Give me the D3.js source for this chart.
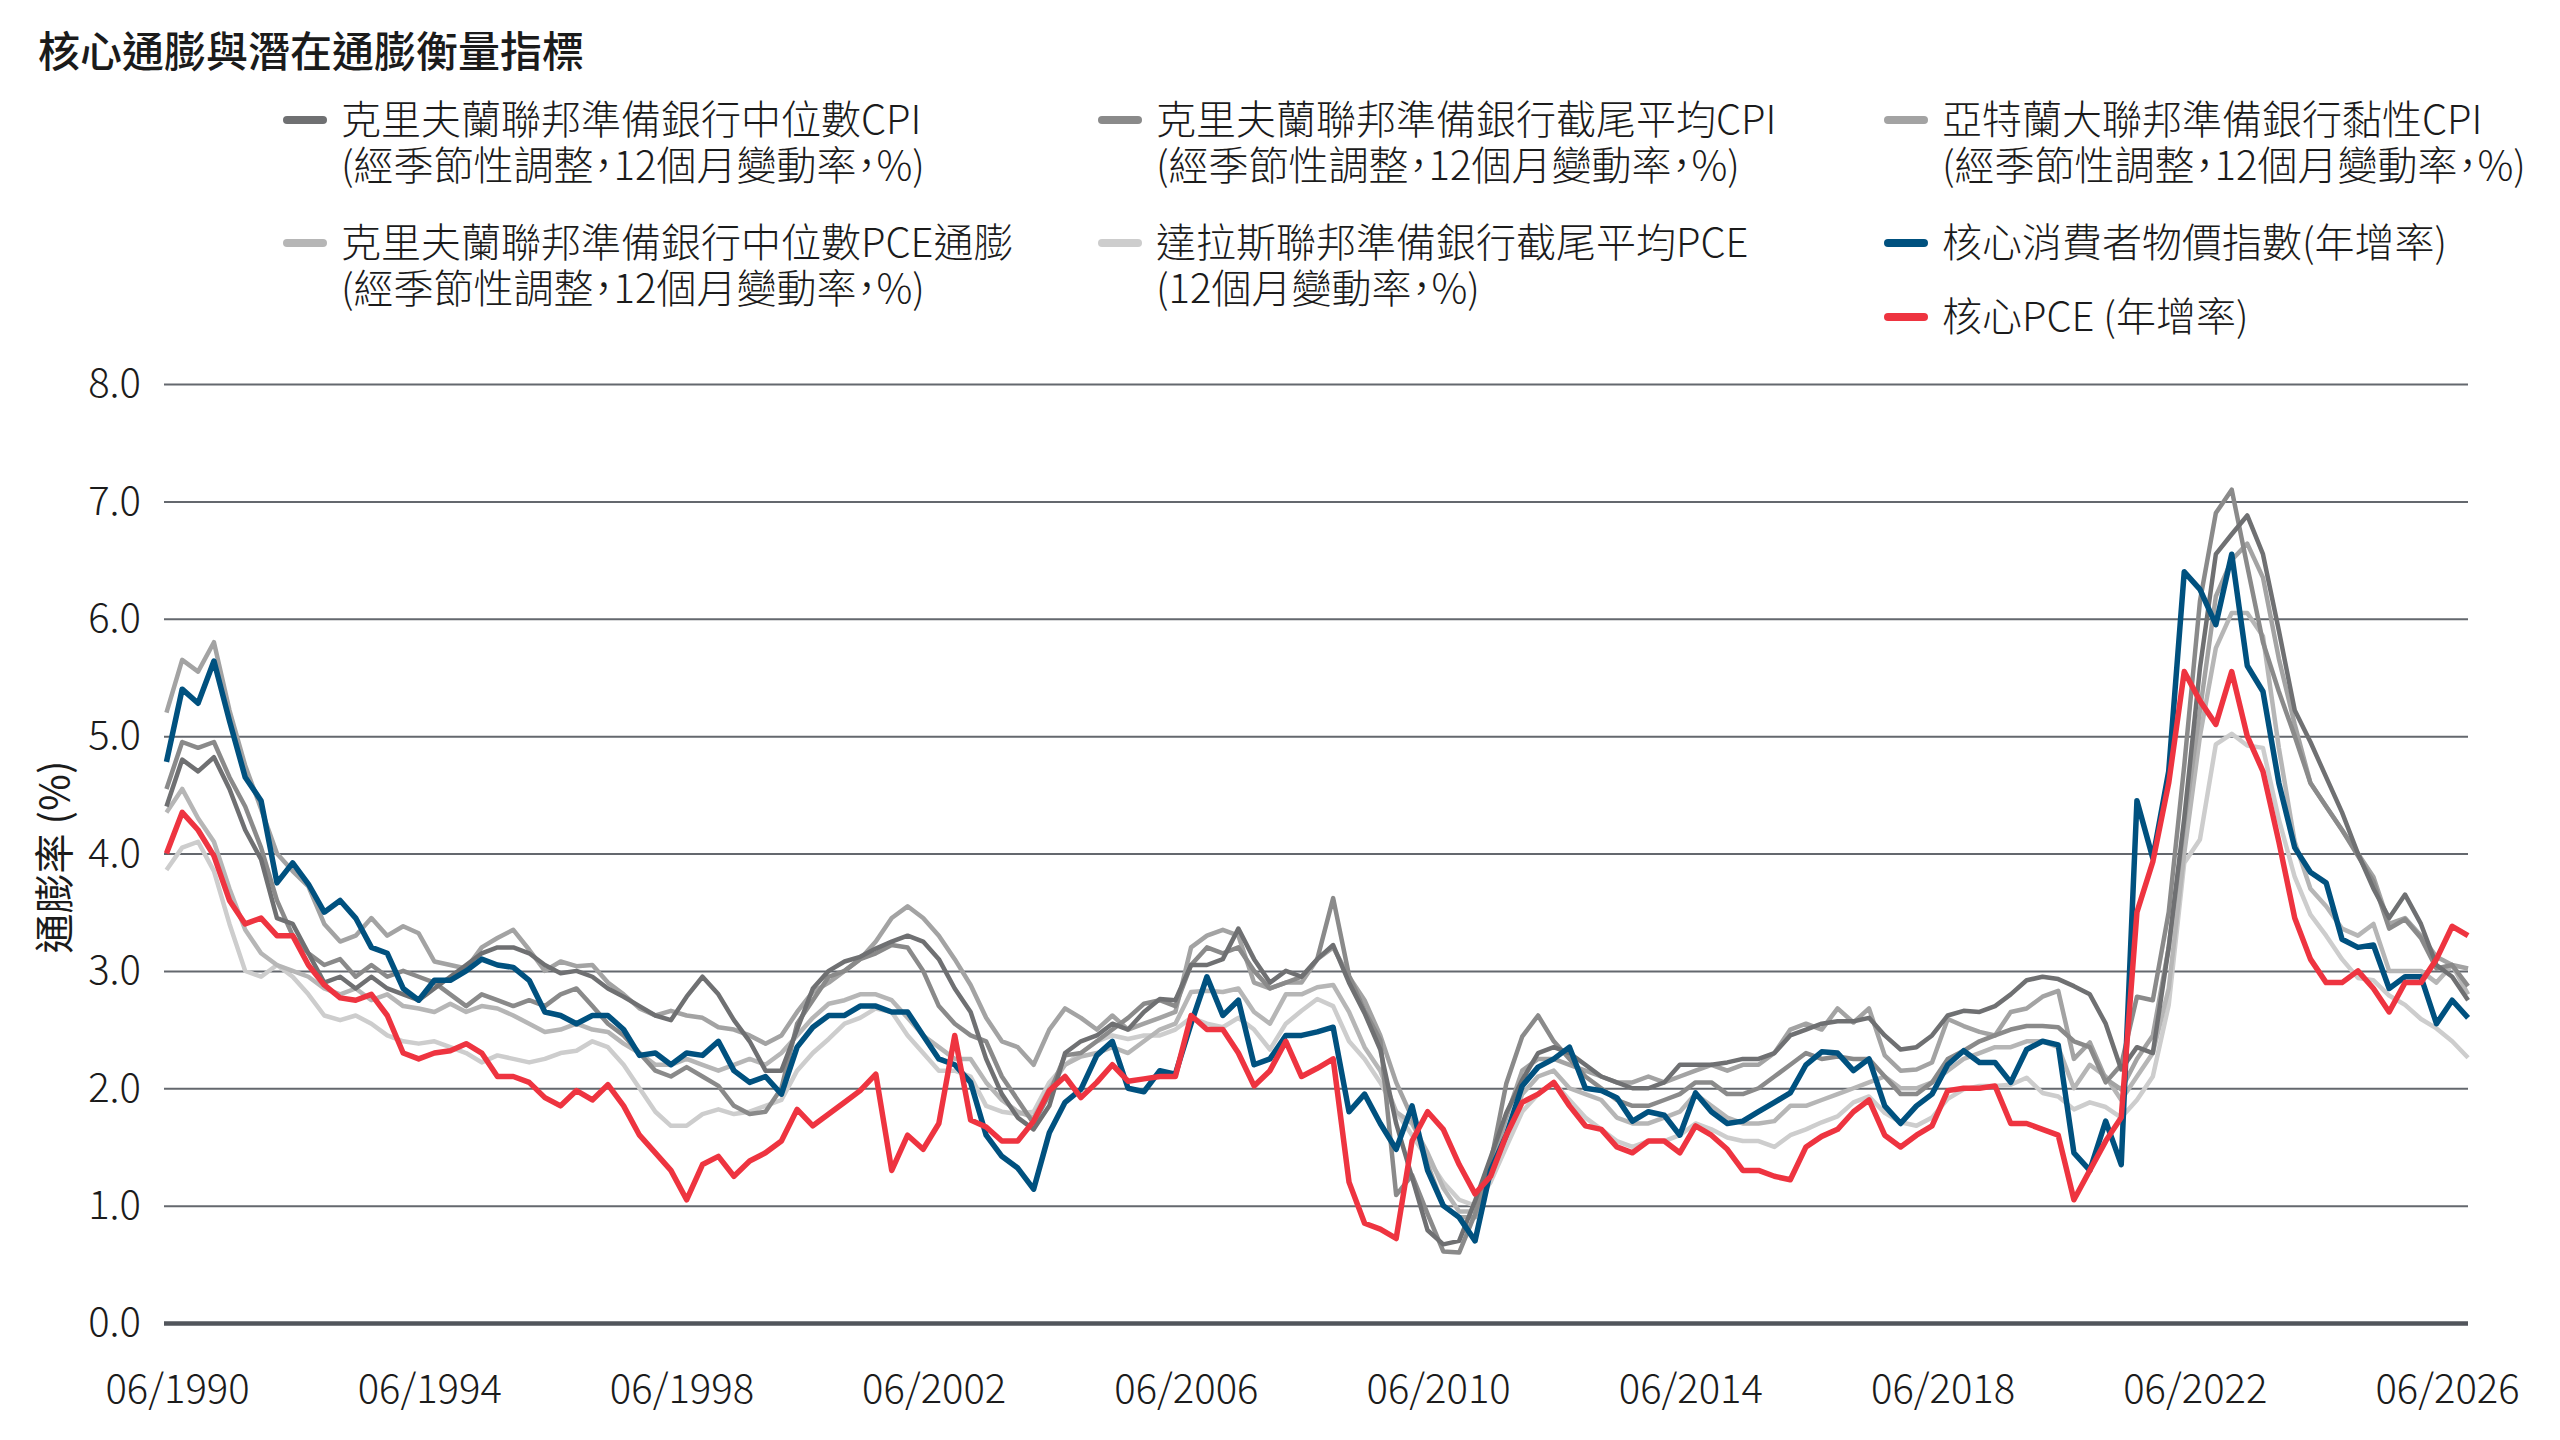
<!DOCTYPE html>
<html>
<head>
<meta charset="utf-8">
<script src="https://cdn.jsdelivr.net/npm/d3@7"></script>
<style>
  body { margin: 0; background: #fff; }
  text { font-family: "Noto Sans CJK TC", "Noto Sans CJK SC", sans-serif; fill: #1b1b1b; }
  .legend-text { font-feature-settings: "palt"; }
</style>
</head>
<body>
<script>
// quarterly readings, first value = 04/1990 on the chart's time axis, last = 10/2026
var medianCpi = [
  4.40,4.80,4.70,4.82, 4.55,4.20,3.95,3.45, 3.40,3.15,2.90,2.95, 2.85,2.95,2.85,2.80,
  2.75,2.85,2.95,3.05, 3.15,3.20,3.20,3.15, 3.05,2.98,3.00,2.95, 2.85,2.78,2.70,2.62,
  2.58,2.78,2.95,2.80, 2.58,2.40,2.15,2.15, 2.50,2.85,3.00,3.08, 3.12,3.19,3.25,3.30,
  3.25,3.10,2.85,2.65, 2.25,1.95,1.75,1.65, 1.85,2.30,2.40,2.45, 2.55,2.50,2.65,2.76,
  2.75,3.05,3.05,3.10, 3.36,3.10,2.90,3.00, 2.95,3.10,3.22,2.90, 2.64,2.33,1.70,1.24,
  0.79,0.67,0.70,1.04, 1.41,1.79,2.07,2.30, 2.35,2.30,2.20,2.10, 2.05,2.00,2.00,2.05,
  2.20,2.20,2.20,2.22, 2.25,2.25,2.30,2.45, 2.50,2.55,2.57,2.57, 2.60,2.45,2.33,2.35,
  2.45,2.62,2.66,2.65, 2.70,2.80,2.92,2.95, 2.93,2.87,2.80,2.55, 2.16,2.35,2.30,3.20,
  4.30,5.58,6.55,6.72, 6.88,6.55,5.90,5.22, 4.95,4.65,4.35,4.00, 3.70,3.45,3.65,3.40,
  3.05,2.95,2.75
];
var trimmedCpi = [
  4.55,4.95,4.90,4.95, 4.65,4.40,4.05,3.60, 3.30,3.15,3.05,3.10, 2.95,3.05,2.95,3.00,
  2.95,2.90,2.80,2.70, 2.80,2.75,2.70,2.75, 2.70,2.80,2.85,2.70, 2.55,2.45,2.30,2.15,
  2.10,2.18,2.10,2.02, 1.85,1.78,1.80,2.00, 2.55,2.75,2.95,3.00, 3.10,3.15,3.22,3.20,
  3.00,2.70,2.55,2.45, 2.40,2.10,1.90,1.70, 1.95,2.28,2.30,2.40, 2.50,2.60,2.72,2.75,
  2.70,3.05,3.20,3.15, 3.20,3.00,2.85,2.90, 2.95,3.10,3.62,2.96, 2.66,2.41,1.09,1.26,
  0.93,0.61,0.60,0.93, 1.36,2.04,2.44,2.62, 2.40,2.25,2.10,2.00, 1.90,1.85,1.85,1.90,
  1.95,2.05,2.05,1.95, 1.95,2.00,2.10,2.20, 2.30,2.25,2.27,2.25, 2.25,2.10,1.95,1.95,
  2.05,2.25,2.32,2.40, 2.45,2.50,2.53,2.53, 2.52,2.40,2.35,2.05, 2.20,2.78,2.75,3.50,
  4.75,6.15,6.90,7.10, 6.45,5.80,5.38,5.00, 4.60,4.40,4.20,3.98, 3.76,3.36,3.44,3.28,
  3.02,3.05,2.87
];
var stickyCpi = [
  5.20,5.65,5.55,5.80, 5.22,4.75,4.38,4.00, 3.85,3.72,3.40,3.25, 3.30,3.45,3.30,3.38,
  3.32,3.08,3.05,3.02, 3.20,3.28,3.35,3.18, 3.00,3.08,3.04,3.05, 2.90,2.80,2.68,2.62,
  2.66,2.62,2.60,2.52, 2.50,2.45,2.38,2.45, 2.65,2.82,2.90,3.00, 3.10,3.25,3.45,3.55,
  3.45,3.30,3.10,2.88, 2.60,2.40,2.35,2.20, 2.50,2.68,2.60,2.50, 2.62,2.50,2.55,2.60,
  2.65,3.20,3.30,3.35, 3.30,2.90,2.85,2.90, 2.90,3.10,3.20,2.95, 2.75,2.45,2.05,1.75,
  1.35,1.00,0.90,0.90, 1.30,1.75,2.15,2.25, 2.25,2.20,2.15,2.10, 2.05,2.05,2.10,2.05,
  2.10,2.15,2.20,2.15, 2.20,2.20,2.30,2.50, 2.55,2.50,2.68,2.56, 2.68,2.28,2.15,2.16,
  2.22,2.59,2.53,2.48, 2.45,2.65,2.68,2.78, 2.83,2.25,2.39,2.08, 1.99,2.25,2.45,3.20,
  4.25,5.22,6.19,6.50, 6.64,6.35,5.66,5.10, 4.60,4.40,4.20,4.00, 3.80,3.40,3.45,3.30,
  3.12,3.05,3.02
];
var medianPce = [
  4.35,4.55,4.30,4.10, 3.70,3.35,3.15,3.05, 3.00,2.95,2.85,2.80, 2.85,2.75,2.80,2.70,
  2.68,2.65,2.72,2.65, 2.70,2.68,2.62,2.55, 2.48,2.50,2.55,2.50, 2.48,2.38,2.30,2.20,
  2.20,2.25,2.20,2.15, 2.20,2.25,2.20,2.30, 2.45,2.60,2.72,2.75, 2.80,2.80,2.75,2.60,
  2.45,2.35,2.25,2.25, 2.05,1.90,1.80,1.75, 2.00,2.20,2.27,2.30, 2.35,2.30,2.40,2.50,
  2.55,2.82,2.83,2.82, 2.85,2.65,2.55,2.80, 2.80,2.86,2.88,2.65, 2.35,2.15,1.80,1.70,
  1.45,1.15,0.95,0.95, 1.25,1.60,1.95,2.10, 2.15,2.00,1.95,1.90, 1.75,1.70,1.70,1.75,
  1.80,1.95,1.85,1.75, 1.70,1.70,1.72,1.85, 1.85,1.90,1.95,2.00, 2.05,2.10,2.00,2.00,
  2.05,2.15,2.25,2.30, 2.35,2.35,2.40,2.40, 2.35,2.00,2.20,2.10, 1.90,2.10,2.30,2.85,
  4.00,5.00,5.75,6.05, 6.05,5.85,4.90,4.10, 3.70,3.55,3.36,3.30, 3.40,3.00,3.00,3.00,
  2.90,3.05,2.80
];
var dallasPce = [
  3.86,4.05,4.10,3.85, 3.40,3.00,2.95,3.05, 2.95,2.80,2.62,2.58, 2.62,2.55,2.45,2.40,
  2.38,2.40,2.35,2.30, 2.22,2.28,2.25,2.22, 2.25,2.30,2.32,2.40, 2.35,2.20,2.00,1.80,
  1.68,1.68,1.78,1.82, 1.78,1.80,1.85,1.90, 2.15,2.30,2.42,2.55, 2.60,2.68,2.65,2.45,
  2.30,2.15,2.15,2.10, 1.85,1.80,1.78,1.80, 2.05,2.20,2.30,2.40, 2.45,2.42,2.45,2.45,
  2.50,2.60,2.55,2.52, 2.60,2.50,2.33,2.55, 2.66,2.76,2.70,2.40, 2.25,2.05,1.80,1.60,
  1.40,1.20,1.05,1.00, 1.20,1.50,1.80,1.95, 2.05,1.90,1.75,1.65, 1.55,1.50,1.55,1.55,
  1.60,1.70,1.65,1.58, 1.55,1.55,1.50,1.60, 1.65,1.71,1.76,1.88, 1.93,1.79,1.71,1.68,
  1.75,1.91,1.99,2.02, 2.02,2.03,2.09,1.96, 1.93,1.82,1.88,1.84, 1.75,1.90,2.10,2.71,
  3.92,4.12,4.93,5.02, 4.92,4.90,4.29,3.80, 3.48,3.30,3.10,2.94, 2.92,2.79,2.71,2.59,
  2.51,2.40,2.26
];
var coreCpi = [
  4.78,5.40,5.28,5.64, 5.13,4.65,4.45,3.75, 3.92,3.74,3.50,3.60, 3.45,3.20,3.15,2.85,
  2.75,2.92,2.92,3.00, 3.10,3.05,3.03,2.92, 2.65,2.62,2.55,2.62, 2.62,2.50,2.28,2.30,
  2.20,2.30,2.28,2.40, 2.15,2.05,2.10,1.95, 2.35,2.52,2.62,2.62, 2.70,2.70,2.65,2.65,
  2.45,2.25,2.20,2.05, 1.60,1.42,1.32,1.14, 1.62,1.88,1.99,2.28, 2.40,2.00,1.97,2.15,
  2.12,2.55,2.95,2.62, 2.75,2.20,2.25,2.45, 2.45,2.48,2.52,1.80, 1.95,1.70,1.48,1.85,
  1.30,1.00,0.90,0.70, 1.30,1.60,2.02,2.18, 2.25,2.35,2.00,1.98, 1.92,1.72,1.80,1.77,
  1.60,1.96,1.80,1.70, 1.72,1.80,1.88,1.96, 2.20,2.31,2.30,2.15, 2.25,1.85,1.70,1.85,
  1.95,2.20,2.32,2.22, 2.22,2.05,2.33,2.40, 2.37,1.45,1.30,1.72, 1.35,4.45,3.96,4.70,
  6.40,6.25,5.95,6.55, 5.60,5.38,4.60,4.05, 3.84,3.75,3.27,3.20, 3.22,2.85,2.95,2.95,
  2.55,2.75,2.60
];
var corePce = [
  4.00,4.35,4.20,3.98, 3.60,3.40,3.45,3.30, 3.30,3.05,2.88,2.77, 2.75,2.80,2.62,2.30,
  2.25,2.30,2.32,2.38, 2.30,2.10,2.10,2.05, 1.92,1.85,1.98,1.90, 2.03,1.85,1.60,1.45,
  1.30,1.05,1.35,1.42, 1.25,1.38,1.45,1.55, 1.82,1.68,1.78,1.88, 1.98,2.12,1.30,1.60,
  1.48,1.70,2.45,1.73, 1.67,1.55,1.55,1.72, 1.98,2.10,1.92,2.05, 2.20,2.06,2.08,2.10,
  2.10,2.62,2.50,2.50, 2.30,2.02,2.15,2.40, 2.10,2.17,2.25,1.20, 0.85,0.80,0.72,1.55,
  1.80,1.65,1.35,1.10, 1.25,1.60,1.88,1.95, 2.05,1.85,1.68,1.65, 1.50,1.45,1.55,1.55,
  1.45,1.68,1.60,1.48, 1.30,1.30,1.25,1.22, 1.50,1.59,1.65,1.80, 1.90,1.60,1.50,1.60,
  1.68,1.98,2.00,2.00, 2.02,1.70,1.70,1.65, 1.60,1.05,1.30,1.55, 1.75,3.50,3.93,4.60,
  5.55,5.30,5.10,5.55, 5.00,4.70,4.10,3.45, 3.10,2.90,2.90,3.00, 2.85,2.65,2.90,2.90,
  3.10,3.38,3.30
];

var xTickLabels = ["06/1990","06/1994","06/1998","06/2002","06/2006","06/2010","06/2014","06/2018","06/2022","06/2026"];
var yTicks = [0, 1, 2, 3, 4, 5, 6, 7, 8];

var seriesNames = [
  ["克里夫蘭聯邦準備銀行中位數CPI", "(經季節性調整，12個月變動率，%)"],
  ["克里夫蘭聯邦準備銀行截尾平均CPI", "(經季節性調整，12個月變動率，%)"],
  ["亞特蘭大聯邦準備銀行黏性CPI", "(經季節性調整，12個月變動率，%)"],
  ["克里夫蘭聯邦準備銀行中位數PCE通膨", "(經季節性調整，12個月變動率，%)"],
  ["達拉斯聯邦準備銀行截尾平均PCE", "(12個月變動率，%)"],
  ["核心消費者物價指數(年增率)"],
  ["核心PCE (年增率)"]
];
var seriesValues = [medianCpi, trimmedCpi, stickyCpi, medianPce, dallasPce, coreCpi, corePce];
var seriesColors = ["#6f7072", "#8a8a8a", "#a3a3a3", "#b6b6b6", "#cdcdcd", "#00517f", "#ee3440"];

var parseTick = d3.timeParse("%m/%Y");
var dates = d3.timeMonth.every(3).range(new Date(1990, 3, 1), new Date(2026, 10, 1));

// plot frame (note: "top" is a reserved window global, so prefix everything)
var plotLeft = 164, plotRight = 2468, plotTop = 384, plotBottom = 1323;

var svg = d3.select("body")
  .append("svg")
  .attr("width", 2560)
  .attr("height", 1440);

svg.append("rect").attr("width", 2560).attr("height", 1440).attr("fill", "#fff");

var x = d3.scaleTime()
  .domain([parseTick(xTickLabels[0]), parseTick(xTickLabels[xTickLabels.length - 1])])
  .range([177, 2447]);

var y = d3.scaleLinear()
  .domain([0, 8])
  .range([plotBottom, plotTop]);

// title
svg.append("text")
  .attr("x", 38)
  .attr("y", 67)
  .style("font-size", "42px")
  .style("font-weight", 500)
  .text("核心通膨與潛在通膨衡量指標");

// horizontal grid + y labels
var yAxis = svg.append("g")
  .attr("transform", "translate(" + plotLeft + ",0)")
  .call(d3.axisLeft(y)
    .tickValues(yTicks)
    .tickSize(-(plotRight - plotLeft))
    .tickPadding(23)
    .tickFormat(d3.format(".1f")));

yAxis.select(".domain").remove();
yAxis.selectAll(".tick line")
  .attr("stroke", function(d) { return d === 0 ? "#51555b" : "#64686e"; })
  .attr("stroke-width", function(d) { return d === 0 ? 4.5 : 2; });
yAxis.selectAll(".tick text")
  .style("font-size", "40px")
  .style("font-weight", 300)
  .attr("fill", "#1b1b1b");

// x labels
var xAxis = svg.append("g")
  .attr("transform", "translate(0," + plotBottom + ")")
  .call(d3.axisBottom(x)
    .tickValues(xTickLabels.map(parseTick))
    .tickSize(0)
    .tickPadding(52)
    .tickFormat(d3.timeFormat("%m/%Y")));

xAxis.select(".domain").remove();
xAxis.selectAll(".tick text")
  .style("font-size", "40px")
  .style("font-weight", 300)
  .attr("fill", "#1b1b1b");

// y axis title
svg.append("text")
  .attr("transform", "translate(52," + 857 + ") rotate(-90)")
  .attr("text-anchor", "middle")
  .attr("dominant-baseline", "central")
  .style("font-size", "40px")
  .style("font-weight", 400)
  .text("通膨率 (%)");

// lines, lightest grays first so blue and red sit on top
var line = d3.line()
  .x(function(d, i) { return x(dates[i]); })
  .y(function(d) { return y(d); });

var drawOrder = [4, 3, 2, 1, 0, 5, 6];
svg.append("g")
  .selectAll("path")
  .data(drawOrder)
  .enter()
  .append("path")
  .attr("d", function(k) { return line(seriesValues[k]); })
  .attr("fill", "none")
  .attr("stroke", function(k) { return seriesColors[k]; })
  .attr("stroke-width", function(k) { return k >= 5 ? 5.5 : 4.5; })
  .attr("stroke-linejoin", "round");

// legend: three columns, the last column stacks three entries
var legendCols = [287, 1102, 1888];
var legendSpots = [
  { col: 0, cy: 120 }, { col: 1, cy: 120 }, { col: 2, cy: 120 },
  { col: 0, cy: 243 }, { col: 1, cy: 243 }, { col: 2, cy: 243 },
  { col: 2, cy: 317 }
];

var legend = svg.append("g")
  .selectAll("g")
  .data(seriesNames)
  .enter()
  .append("g")
  .attr("transform", function(d, i) {
    return "translate(" + legendCols[legendSpots[i].col] + "," + legendSpots[i].cy + ")";
  });

legend.append("line")
  .attr("x1", 0)
  .attr("x2", 36)
  .attr("stroke", function(d, i) { return seriesColors[i]; })
  .attr("stroke-width", 8)
  .attr("stroke-linecap", "round");

legend.selectAll("text")
  .data(function(d) { return d; })
  .enter()
  .append("text")
  .attr("class", "legend-text")
  .attr("x", 54)
  .attr("y", function(d, j) { return 14 + j * 46; })
  .style("font-size", "40px")
  .style("font-weight", 300)
  .text(function(d) { return d; });
</script>
</body>
</html>
